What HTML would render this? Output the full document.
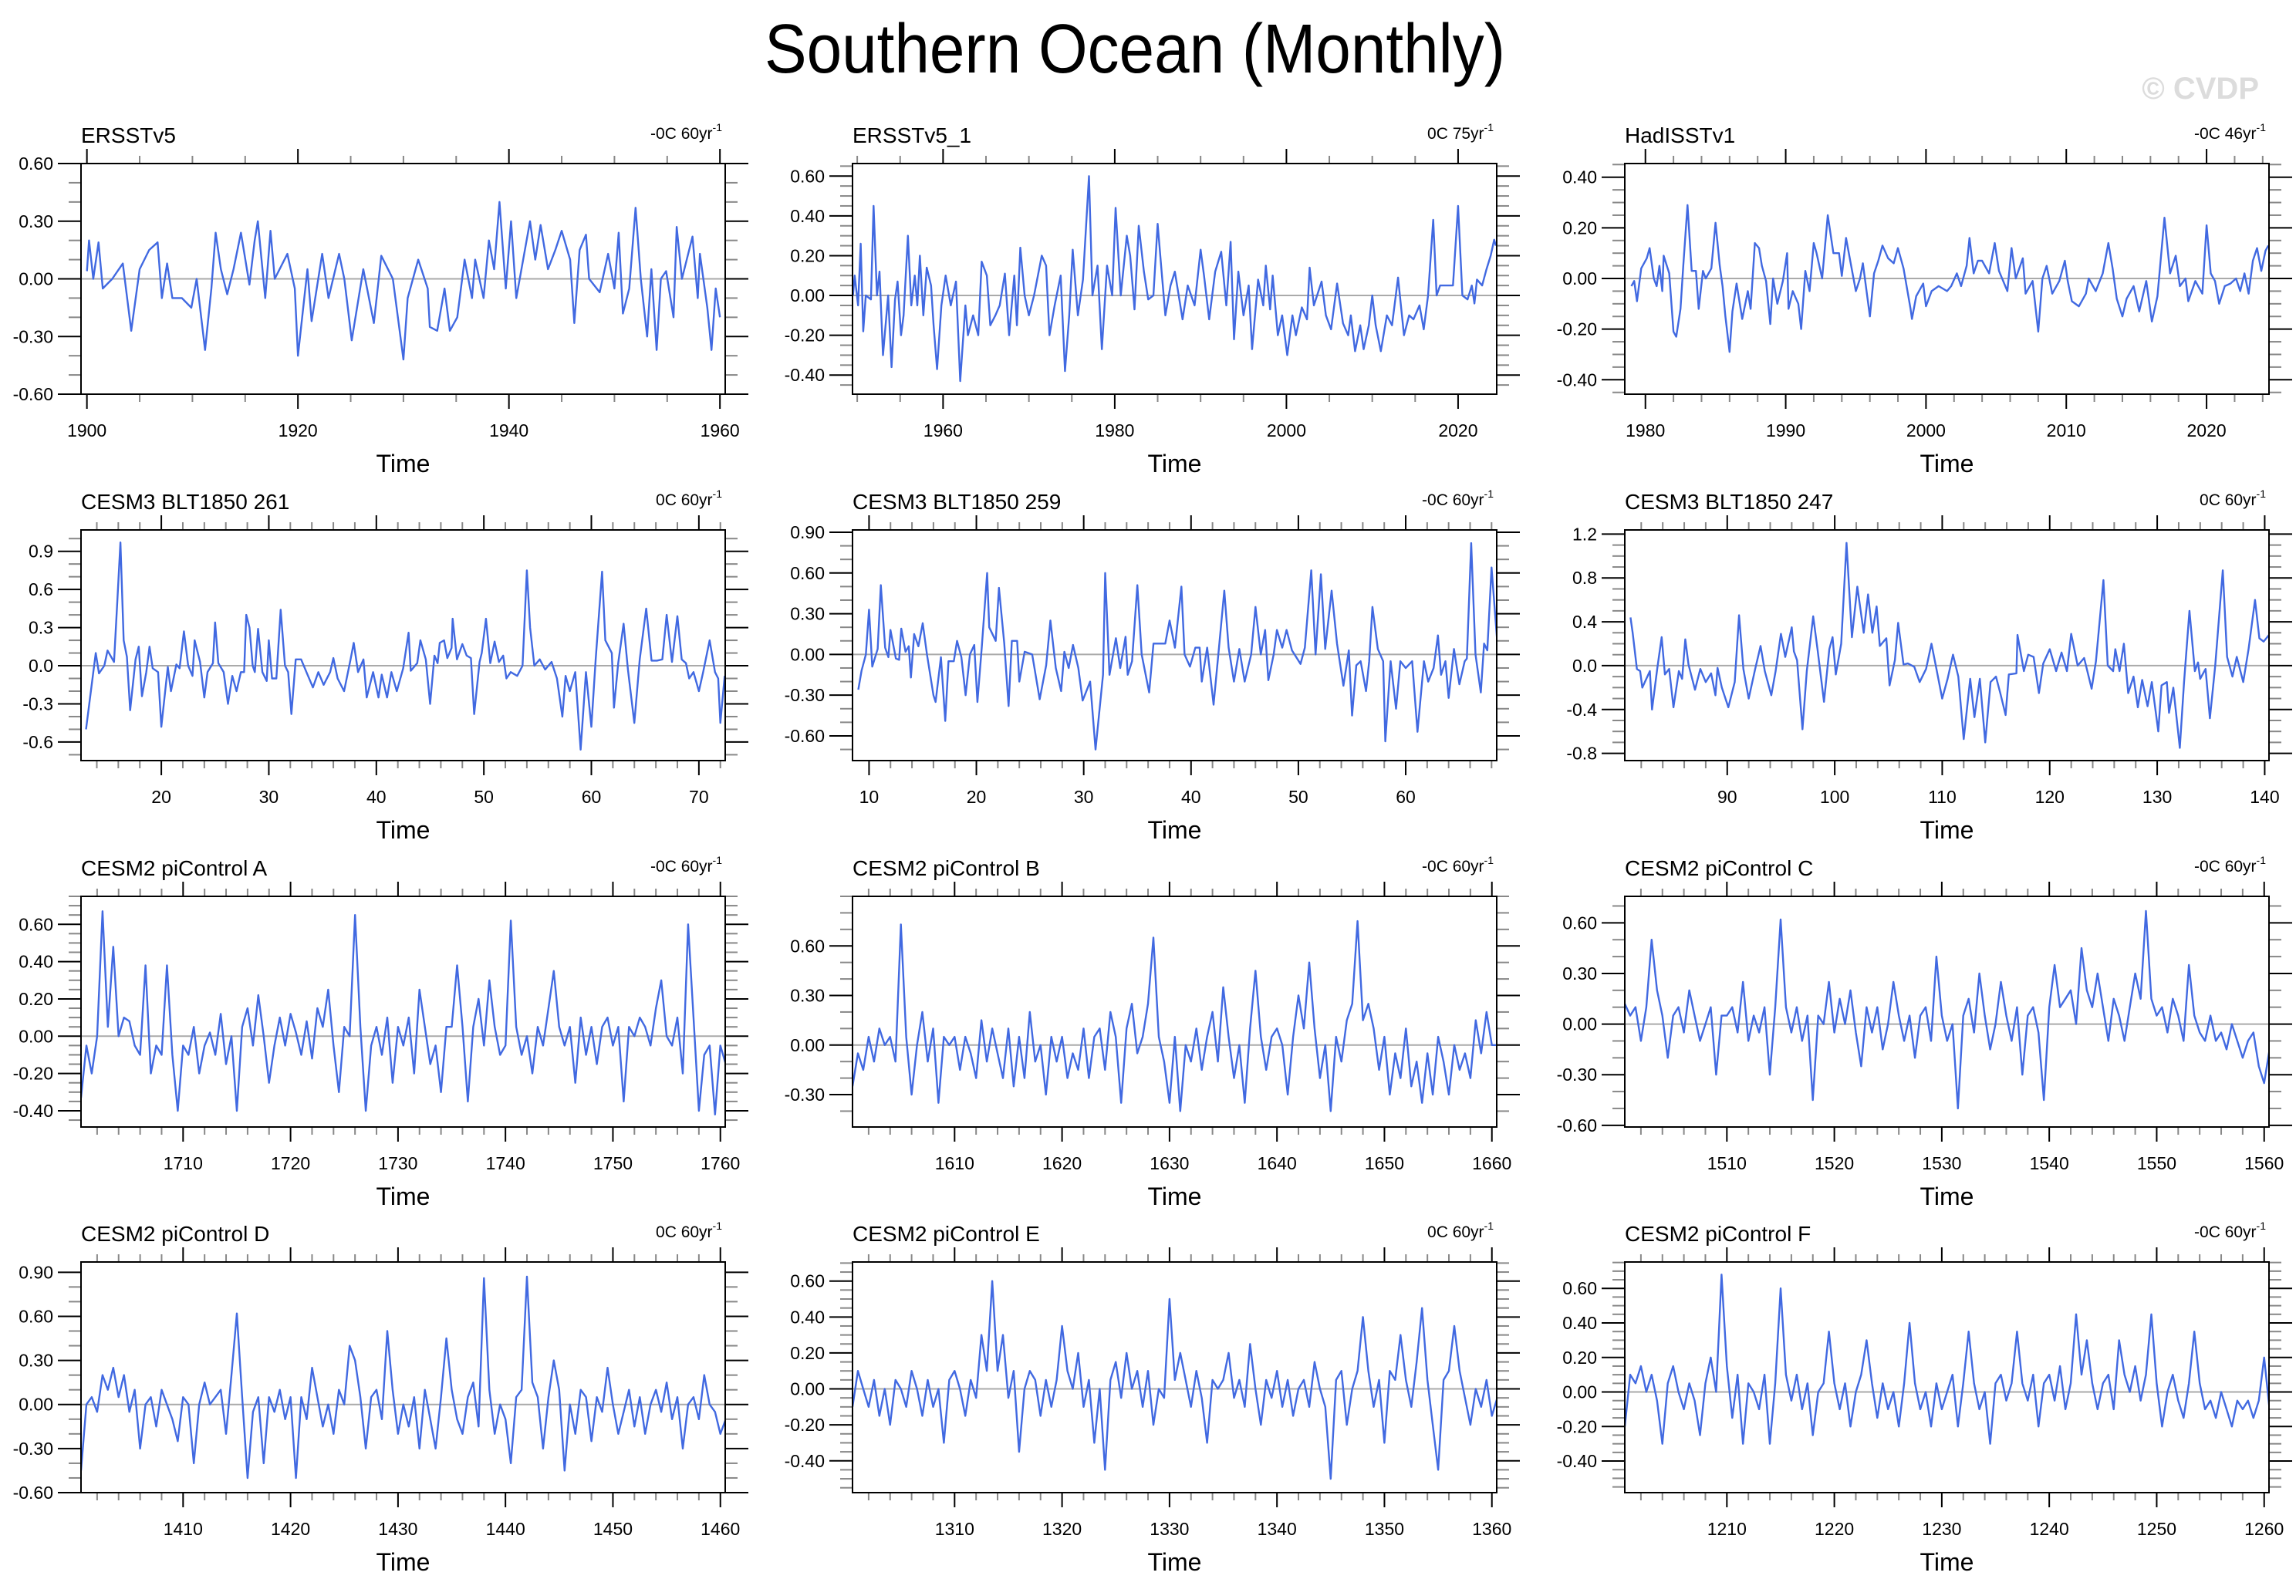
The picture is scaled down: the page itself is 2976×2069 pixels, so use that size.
<!DOCTYPE html>
<html><head><meta charset="utf-8"><title>Southern Ocean (Monthly)</title>
<style>html,body{margin:0;padding:0;background:#fff}svg{display:block}text{font-family:"Liberation Sans",Arial,sans-serif}</style>
</head><body>
<svg id="fig" xmlns="http://www.w3.org/2000/svg" width="2976" height="2069" viewBox="0 0 2976 2069">
<rect x="0" y="0" width="2976" height="2069" fill="#fff"/>
<text x="1471" y="94" font-size="90" text-anchor="middle" textLength="960" lengthAdjust="spacingAndGlyphs">Southern Ocean (Monthly)</text>
<text x="2928" y="128" font-size="40" font-weight="bold" fill="#dcdcdc" text-anchor="end">© CVDP</text>
<g id="panels"></g>
</svg>
<script>
// ---------- data ----------
const p1Years=[1900.0,1900.2,1900.6,1901.1,1901.5,1902.4,1903.4,1904.2,1905.0,1905.9,1906.7,1907.1,1907.6,1908.1,1909.0,1909.9,1910.4,1911.2,1911.8,1912.2,1912.7,1913.3,1913.9,1914.6,1915.4,1915.9,1916.2,1916.9,1917.4,1917.8,1919.0,1919.7,1920.0,1920.9,1921.3,1922.3,1922.9,1923.9,1924.4,1925.1,1926.2,1927.2,1927.9,1929.0,1930.0,1930.4,1931.4,1932.3,1932.5,1933.2,1933.9,1934.4,1935.1,1935.8,1936.5,1936.8,1937.6,1938.1,1938.6,1939.1,1939.7,1940.2,1940.7,1942.0,1942.5,1943.0,1943.7,1944.4,1945.0,1945.8,1946.2,1946.7,1947.3,1947.6,1948.6,1949.4,1950.0,1950.4,1950.8,1951.4,1952.0,1952.5,1953.1,1953.5,1954.0,1954.4,1954.9,1955.6,1955.9,1956.4,1957.4,1957.9,1958.1,1958.8,1959.2,1959.6,1960.0];
const p1Vals=[.04,.2,0,.19,-.05,0,.08,-.27,.05,.15,.19,-.1,.08,-.1,-.1,-.15,0,-.37,-.05,.24,.05,-.08,.05,.24,-.03,.2,.3,-.1,.25,0,.13,-.05,-.4,.05,-.22,.13,-.1,.13,0,-.32,.05,-.23,.12,0,-.42,-.1,.1,-.05,-.25,-.27,-.05,-.27,-.2,.1,-.1,.1,-.1,.2,.05,.4,-.05,.3,-.1,.3,.1,.28,.05,.15,.25,.1,-.23,.15,.23,0,-.07,.13,-.05,.24,-.18,-.05,.37,0,-.3,.05,-.37,0,.04,-.2,.27,0,.22,-.1,.13,-.15,-.37,-.05,-.2];

const p2Years=[1949.5,1949.7,1950.1,1950.4,1950.7,1951.0,1951.6,1951.9,1952.3,1952.6,1953.0,1953.6,1954.0,1954.4,1954.7,1955.1,1955.4,1955.9,1956.3,1956.7,1957.0,1957.3,1957.7,1958.1,1958.6,1958.9,1959.3,1959.8,1960.3,1960.9,1961.5,1962.0,1962.6,1962.9,1963.5,1964.1,1964.5,1965.1,1965.5,1966.1,1966.6,1967.2,1967.7,1968.3,1968.6,1969.0,1969.5,1970.0,1970.6,1971.5,1972.0,1972.4,1973.0,1973.7,1974.2,1974.7,1975.1,1975.7,1976.3,1977.0,1977.4,1978.0,1978.5,1979.1,1979.7,1980.1,1980.7,1981.4,1981.8,1982.3,1982.8,1983.4,1983.9,1984.5,1985.0,1985.4,1985.9,1986.5,1987.0,1987.9,1988.5,1989.3,1990.0,1990.4,1991.0,1991.7,1992.4,1993.0,1993.5,1993.9,1994.4,1995.0,1995.6,1996.0,1996.7,1997.3,1997.6,1998.1,1998.4,1999.0,1999.5,2000.1,2000.7,2001.1,2001.8,2002.4,2002.7,2003.2,2004.1,2004.6,2005.2,2005.9,2006.6,2007.2,2007.5,2008.0,2008.6,2009.0,2009.6,2010.0,2010.4,2011.0,2011.7,2012.3,2013.0,2013.7,2014.3,2014.8,2015.5,2016.0,2016.5,2017.1,2017.5,2017.9,2018.8,2019.4,2020.0,2020.5,2021.1,2021.6,2021.9,2022.2,2022.8,2023.3,2023.8,2024.2,2024.4];
const p2Vals=[0,.1,-.05,.26,-.18,0,-.02,.45,0,.12,-.3,0,-.36,-.02,.07,-.2,-.1,.3,-.05,.1,-.05,.2,-.1,.14,.05,-.15,-.37,-.05,.1,-.05,.07,-.43,-.05,-.2,-.1,-.2,.17,.1,-.15,-.1,-.05,.11,-.2,.1,-.15,.24,0,-.1,0,.2,.15,-.2,-.05,.1,-.38,-.1,.23,-.1,.08,.6,0,.15,-.27,.15,0,.44,0,.3,.2,-.07,.35,.12,-.02,0,.36,.15,-.1,.05,.12,-.12,.05,-.05,.23,.1,-.12,.12,.22,-.05,.27,-.22,.12,-.1,.05,-.27,.08,-.05,.15,-.07,.1,-.2,-.1,-.3,-.1,-.2,-.06,-.12,.14,-.05,.07,-.1,-.17,.06,-.14,-.2,-.1,-.28,-.15,-.27,-.15,0,-.15,-.28,-.1,-.15,.09,-.2,-.1,-.12,-.05,-.17,0,.38,0,.05,.05,.05,.45,0,-.02,.05,-.04,.08,.05,.13,.2,.28,.25];

const p3Years=[1979.0,1979.2,1979.4,1979.7,1980.1,1980.3,1980.6,1980.8,1981.0,1981.2,1981.3,1981.7,1982.0,1982.2,1982.5,1982.7,1983.0,1983.3,1983.6,1983.8,1984.1,1984.3,1984.7,1985.0,1985.3,1985.5,1985.7,1986.0,1986.2,1986.5,1986.9,1987.3,1987.5,1987.8,1988.1,1988.3,1988.6,1988.9,1989.1,1989.4,1989.8,1990.1,1990.2,1990.5,1990.9,1991.1,1991.4,1991.7,1992.0,1992.2,1992.6,1993.0,1993.4,1993.8,1994.0,1994.3,1994.6,1995.0,1995.3,1995.5,1996.0,1996.3,1996.6,1996.9,1997.3,1997.7,1998.0,1998.4,1998.9,1999.0,1999.3,1999.8,2000.0,2000.4,2000.9,2001.5,2001.8,2002.2,2002.5,2002.9,2003.1,2003.4,2003.7,2004.0,2004.5,2004.9,2005.2,2005.8,2006.1,2006.4,2006.9,2007.1,2007.6,2008.0,2008.3,2008.6,2009.0,2009.5,2009.9,2010.1,2010.4,2010.9,2011.4,2011.6,2012.1,2012.6,2013.0,2013.3,2013.6,2014.0,2014.3,2014.8,2015.2,2015.7,2016.1,2016.5,2017.0,2017.4,2017.8,2018.1,2018.5,2018.7,2019.2,2019.7,2020.0,2020.3,2020.6,2020.9,2021.3,2021.7,2022.1,2022.4,2022.7,2023.0,2023.3,2023.6,2023.9,2024.2,2024.4];
const p3Vals=[-.03,-.01,-.09,.04,.08,.12,0,-.03,.05,-.05,.09,.02,-.21,-.23,-.12,.05,.29,.03,.03,-.12,.03,0,.04,.22,.05,-.03,-.15,-.29,-.13,-.02,-.16,-.05,-.12,.14,.12,.05,-.01,-.18,0,-.1,-.01,.1,-.12,-.05,-.1,-.2,.03,-.05,.14,.1,0,.25,.1,.1,.01,.16,.07,-.05,0,.06,-.15,.02,.07,.13,.08,.06,.12,.04,-.12,-.16,-.07,-.02,-.11,-.05,-.03,-.05,-.03,.02,-.03,.05,.16,.02,.07,.07,.02,.14,.03,-.05,.12,0,.08,-.06,-.01,-.21,0,.05,-.06,-.01,.07,-.01,-.09,-.11,-.06,0,-.05,.02,.14,.04,-.08,-.15,-.08,-.03,-.13,-.01,-.17,-.07,.24,.02,.09,-.03,0,-.09,-.01,-.06,.21,.02,-.01,-.1,-.03,-.02,0,-.05,.02,-.06,.07,.12,.03,.11,.13];

const p4Years=[13.0,13.6,13.9,14.2,14.7,15.0,15.6,15.9,16.2,16.5,16.8,17.1,17.6,17.9,18.2,18.6,18.9,19.2,19.7,20.0,20.6,20.9,21.4,21.7,22.1,22.5,22.9,23.1,23.6,24.0,24.3,24.8,25.0,25.3,25.8,26.2,26.6,27.0,27.4,27.7,27.9,28.2,28.5,28.7,29.0,29.4,29.8,30.0,30.3,30.7,31.1,31.5,31.8,32.1,32.5,33.0,33.5,34.1,34.6,35.1,35.7,36.0,36.4,37.0,37.6,37.9,38.3,38.8,39.1,39.7,40.2,40.5,41.0,41.4,41.9,42.5,43.0,43.2,43.8,44.1,44.6,45.0,45.4,45.7,45.9,46.3,46.6,47.0,47.1,47.5,48.0,48.4,48.8,49.1,49.6,49.8,50.2,50.6,51.0,51.4,51.8,52.1,52.5,53.1,53.6,54.0,54.3,54.7,55.2,55.7,56.3,56.8,57.3,57.6,58.0,58.5,59.0,59.5,60.0,60.4,61.0,61.3,61.9,62.1,62.5,63.0,63.4,64.0,64.5,65.1,65.6,66.1,66.6,67.0,67.5,68.0,68.4,68.8,69.1,69.5,70.0,70.4,71.0,71.5,71.8,72.0,72.4];
const p4Vals=[-.5,-.1,.1,-.06,0,.12,.03,.5,.97,.2,.07,-.35,.05,.15,-.24,-.05,.15,-.02,-.05,-.48,-.01,-.2,.01,-.02,.27,0,-.08,.2,.03,-.25,-.05,.02,.34,.02,-.05,-.3,-.08,-.2,-.05,-.05,.4,.3,0,-.05,.29,-.05,-.12,.2,-.1,-.1,.44,0,-.05,-.38,.05,.05,-.05,-.17,-.05,-.15,-.05,.06,-.1,-.2,.05,.18,-.05,.05,-.25,-.05,-.25,-.07,-.25,-.05,-.2,-.02,.26,-.04,.02,.2,.05,-.3,.08,.02,.18,.2,.06,.14,.37,.05,.17,.08,.06,-.38,.03,.1,.37,.02,.19,.03,.08,-.1,-.05,-.08,0,.75,.3,0,.05,-.03,.03,-.1,-.4,-.08,-.2,-.05,-.66,-.05,-.48,.05,.74,.2,.1,-.33,.02,.33,-.03,-.45,.05,.45,.04,.04,.05,.4,.03,.39,.05,.02,-.1,-.05,-.2,-.05,.2,-.05,-.1,-.45,-.08];

const p5Years=[9.0,9.3,9.7,10.0,10.3,10.8,11.1,11.5,11.8,12.0,12.5,12.8,13.0,13.4,13.7,13.9,14.2,14.6,15.0,15.4,16.0,16.2,16.7,17.1,17.4,17.9,18.2,18.6,19.0,19.4,19.8,20.1,20.5,21.0,21.2,21.8,22.1,22.6,23.0,23.3,23.8,24.0,24.5,25.2,25.9,26.5,26.9,27.4,27.9,28.2,28.6,29.0,29.5,29.9,30.6,31.1,31.8,32.0,32.4,33.0,33.4,33.9,34.1,34.5,35.0,35.4,36.1,36.5,37.0,37.6,38.0,38.5,39.1,39.4,39.9,40.4,40.8,41.0,41.5,42.1,42.6,43.1,43.5,44.0,44.5,45.0,45.6,46.0,46.5,46.9,47.2,47.7,48.0,48.5,48.9,49.4,50.2,50.6,51.2,51.6,52.1,52.5,53.1,53.6,54.2,54.7,55.0,55.4,55.8,56.3,56.6,56.9,57.4,57.9,58.1,58.6,59.1,59.5,60.0,60.6,61.1,61.7,62.1,62.6,63.0,63.3,63.7,64.0,64.5,65.0,65.5,65.7,66.1,66.5,67.0,67.3,67.6,68.0,68.5];
const p5Vals=[-.26,-.12,0,.33,-.09,.04,.51,.05,-.02,.18,-.03,-.04,.19,.02,.06,-.17,.15,.06,.23,0,-.3,-.35,-.02,-.49,-.05,-.05,.1,-.02,-.3,0,.07,-.35,.05,.6,.2,.1,.49,.08,-.38,.1,.1,-.2,.02,0,-.33,-.08,.25,-.1,-.27,.02,-.1,.07,-.1,-.34,-.2,-.7,-.15,.6,-.15,.12,-.1,.13,-.15,-.05,.51,0,-.28,.08,.08,.08,.25,.05,.5,0,-.09,.05,.05,-.2,.05,-.37,.05,.47,.05,-.2,.04,-.2,0,.35,0,.18,-.19,0,.18,.05,.18,.03,-.07,.05,.62,0,.59,.04,.47,.08,-.23,.03,-.45,-.08,-.05,-.27,-.05,.35,.04,-.05,-.64,-.05,-.4,-.05,-.1,-.05,-.57,-.05,-.2,-.1,.14,-.15,-.05,-.32,.04,-.22,-.05,-.03,.82,0,-.28,.08,.03,.64,.12];

const p6Years=[81.0,81.2,81.6,81.9,82.1,82.8,83.0,83.5,83.9,84.2,84.6,85.0,85.5,85.8,86.1,86.4,87.0,87.5,88.0,88.5,88.9,89.1,89.5,90.1,90.7,91.1,91.5,92.0,92.6,93.1,93.5,94.1,94.5,95.0,95.4,96.0,96.2,96.5,97.0,97.4,98.0,98.4,99.0,99.5,99.8,100.1,100.6,101.1,101.6,102.1,102.7,103.1,103.5,103.9,104.2,104.8,105.1,105.6,105.9,106.4,106.8,107.4,107.9,108.5,109.0,109.5,110.0,110.5,111.0,111.5,112.0,112.6,113.0,113.5,114.0,114.5,115.0,115.4,115.9,116.2,116.9,117.0,117.6,118.0,118.5,119.0,119.4,120.0,120.6,121.1,121.6,122.0,122.6,123.2,123.9,124.3,125.0,125.4,125.9,126.1,126.5,126.9,127.3,127.8,128.2,128.6,129.1,129.5,130.1,130.4,130.9,131.1,131.5,132.1,132.5,133.0,133.5,133.8,134.0,134.5,134.9,135.4,136.1,136.5,137.0,137.4,138.0,138.5,139.1,139.5,139.9,140.4];
const p6Vals=[.44,.3,-.03,-.05,-.2,-.05,-.4,-.02,.26,-.08,-.03,-.38,-.05,-.12,.24,.01,-.22,-.03,-.15,-.07,-.27,-.02,-.2,-.38,-.15,.46,-.03,-.3,-.03,.18,-.05,-.27,-.05,.29,.08,.35,.13,.05,-.58,-.05,.45,.15,-.33,.15,.26,-.08,.2,1.12,.26,.72,.3,.65,.3,.54,.18,.25,-.18,.05,.39,.01,.02,-.01,-.15,-.03,.2,-.05,-.3,-.12,.1,-.1,-.67,-.12,-.47,-.12,-.7,-.15,-.1,-.25,-.45,-.08,-.07,.28,-.05,.1,.08,-.25,.02,.15,-.05,.12,-.05,.29,0,.07,-.21,.04,.78,0,-.05,.15,-.05,.2,-.25,-.1,-.38,-.13,-.37,-.15,-.6,-.18,-.15,-.43,-.2,-.75,-.15,.5,-.05,.03,-.12,-.03,-.48,0,.87,.08,-.1,.08,-.15,.15,.6,.25,.22,.28];

// piControl series: half-year samples
const p7Start=1700.5, p7Step=0.5;
const p7Vals=[-.33,-.05,-.2,0,.67,.05,.48,0,.1,.08,-.05,-.1,.38,-.2,-.05,-.1,.38,-.1,-.4,-.05,-.1,.05,-.2,-.05,.02,-.1,.12,-.15,0,-.4,.05,.15,-.05,.22,0,-.25,-.05,.1,-.05,.12,.02,-.1,.08,-.12,.15,.05,.25,-.05,-.3,.05,0,.65,.05,-.4,-.05,.05,-.1,.1,-.25,.05,-.05,.1,-.2,.25,.05,-.15,-.05,-.3,.05,.05,.38,.05,-.35,.05,.2,-.05,.3,.05,-.1,-.05,.62,.05,-.1,0,-.2,.05,-.05,.15,.35,.05,-.05,.05,-.25,.1,-.1,.05,-.15,.05,.1,-.05,.05,-.35,.05,0,.1,.05,-.05,.15,.3,0,-.05,.1,-.2,.6,.1,-.4,-.1,-.05,-.42,-.05,-.15];
const p8Start=1600.5, p8Step=0.5;
const p8Vals=[-.25,-.05,-.15,.05,-.1,.1,0,.05,-.1,.73,.05,-.3,0,.2,-.1,.1,-.35,.05,0,.05,-.15,.05,-.05,-.2,.15,-.1,.1,-.05,-.2,.1,-.25,.05,-.2,.2,-.1,0,-.3,.05,-.1,.05,-.2,-.05,-.15,.1,-.2,.05,.1,-.15,.2,.05,-.35,.1,.25,-.05,.05,.25,.65,.05,-.1,-.35,.05,-.4,0,-.1,.1,-.15,.05,.2,-.1,.35,.05,-.2,0,-.35,.1,.45,.05,-.15,.05,.1,0,-.3,.05,.3,.1,.5,.1,-.2,0,-.4,.05,-.1,.15,.25,.75,.15,.25,.1,-.15,.05,-.3,-.05,-.2,.1,-.25,-.1,-.35,-.05,-.3,.05,-.1,-.3,0,-.15,-.05,-.2,.15,-.05,.2,0,0];
const p9Start=1500.5, p9Step=0.5;
const p9Vals=[.12,.05,.1,-.1,.1,.5,.2,.05,-.2,.05,.1,-.05,.2,.05,-.1,0,.1,-.3,.05,.05,.1,-.05,.25,-.1,.05,-.05,.1,-.3,.1,.62,.1,-.05,.1,-.1,.05,-.45,.05,0,.25,-.05,.15,0,.2,-.05,-.25,.1,-.05,.1,-.15,0,.25,.05,-.1,.05,-.2,.05,.1,-.1,.4,.05,-.1,0,-.5,.05,.15,-.05,.3,.05,-.15,0,.25,.05,-.1,.1,-.3,.05,.1,-.05,-.45,.1,.35,.1,.15,.2,0,.45,.2,.1,.3,.1,-.1,.15,.05,-.1,.1,.3,.15,.67,.15,.05,.1,-.05,.15,.05,-.1,.35,.05,-.05,-.1,.05,-.1,-.05,-.15,0,-.1,-.2,-.1,-.05,-.25,-.35,-.15];
const p10Start=1400.5, p10Step=0.5;
const p10Vals=[-.45,0,.05,-.05,.2,.1,.25,.05,.2,-.05,.1,-.3,0,.05,-.15,.1,0,-.1,-.25,.05,0,-.4,0,.15,0,.05,.1,-.2,.2,.62,.05,-.5,-.05,.05,-.4,.05,-.05,.1,-.1,.05,-.5,.05,-.1,.25,.05,-.15,0,-.2,.1,0,.4,.3,.05,-.3,.05,.1,-.1,.5,.1,-.2,0,-.15,.05,-.3,.1,-.1,-.3,.05,.45,.1,-.1,-.2,.05,.15,-.15,.86,.1,-.2,0,-.1,-.4,.05,.1,.87,.15,.05,-.3,.05,.3,.1,-.45,0,-.2,.1,.05,-.25,.05,-.05,.25,0,-.2,-.05,.1,-.15,.05,-.2,0,.1,-.05,.15,-.1,.05,-.3,0,.05,-.1,.2,0,-.05,-.2,-.1];
const p11Start=1300.5, p11Step=0.5;
const p11Vals=[-.1,.1,0,-.1,.05,-.15,0,-.2,.05,0,-.1,.1,0,-.15,.05,-.1,0,-.3,.05,.1,0,-.15,.05,-.05,.3,.1,.6,.1,.3,-.05,.1,-.35,0,.1,.05,-.15,.05,-.1,.05,.35,.1,0,.2,-.1,.05,-.3,0,-.45,.05,.15,-.05,.2,0,.1,-.1,.1,-.2,0,-.05,.5,.05,.2,.05,-.1,.1,-.05,-.3,.05,0,.05,.2,-.05,.05,-.1,.25,0,-.2,.05,-.05,.1,-.1,.05,-.15,0,.05,-.1,.15,0,-.1,-.5,.05,.1,-.2,0,.1,.4,.1,-.1,.05,-.3,.1,.05,.3,.05,-.1,.15,.45,.05,-.2,-.45,.05,.1,.35,.1,-.05,-.2,0,-.1,.05,-.15,-.05];
const p12Start=1200.5, p12Step=0.5;
const p12Vals=[-.2,.1,.05,.15,0,.1,-.05,-.3,.05,.15,0,-.1,.05,-.05,-.25,.05,.2,0,.68,.15,-.15,.1,-.3,.05,0,-.1,.1,-.3,.05,.6,.1,-.05,.1,-.1,.05,-.25,0,.05,.35,.05,-.1,.05,-.2,0,.1,.3,.05,-.15,.05,-.1,0,-.2,.05,.4,.05,-.1,0,-.2,.05,-.1,0,.1,-.2,.05,.35,.05,-.1,0,-.3,.05,.1,-.05,.05,.35,.05,-.05,.1,-.2,.05,.1,-.05,.15,-.1,.05,.45,.1,.3,.05,-.1,.05,.1,-.1,.3,.1,0,.15,-.05,.1,.45,.05,-.2,0,.1,-.05,-.15,.05,.35,.05,-.1,-.05,-.15,0,-.1,-.2,-.05,-.1,-.05,-.15,-.05,.2,-.1];

// tick label arrays
const yT_p1=[-0.6,-0.3,0,0.3,0.6];
const yT_p2=[-0.4,-0.2,0,0.2,0.4,0.6];
const yT_p3=[-0.4,-0.2,0,0.2,0.4];
const yT_p4=[-0.6,-0.3,0,0.3,0.6,0.9];
const yT_p5=[-0.6,-0.3,0,0.3,0.6,0.9];
const yT_p6=[-0.8,-0.4,0,0.4,0.8,1.2];
const yT_p7=[-0.4,-0.2,0,0.2,0.4,0.6];
const yT_p8=[-0.3,0,0.3,0.6];
const yT_p9=[-0.6,-0.3,0,0.3,0.6];
const yT_p10=[-0.6,-0.3,0,0.3,0.6,0.9];
const yT_p11=[-0.4,-0.2,0,0.2,0.4,0.6];
const yT_p12=[-0.4,-0.2,0,0.2,0.4,0.6];
const xT_p1=[1900,1920,1940,1960];
const xT_p2=[1960,1980,2000,2020];
const xT_p3=[1980,1990,2000,2010,2020];
const xT_p4=[20,30,40,50,60,70];
const xT_p5=[10,20,30,40,50,60];
const xT_p6=[90,100,110,120,130,140];
const xT_p7=[1710,1720,1730,1740,1750,1760];
const xT_p8=[1610,1620,1630,1640,1650,1660];
const xT_p9=[1510,1520,1530,1540,1550,1560];
const xT_p10=[1410,1420,1430,1440,1450,1460];
const xT_p11=[1310,1320,1330,1340,1350,1360];
const xT_p12=[1210,1220,1230,1240,1250,1260];

function evenYears(start,step,n){const a=[];for(let i=0;i<n;i++)a.push(start+i*step);return a;}

const panels=[
 {key:'ersstv5',title:'ERSSTv5',trend:'-0C 60yr',c:0,r:0,xr:[1899.44,1960.5],yr:[-0.6,0.6],xt:xT_p1,xm:5,yt:yT_p1,ym:0.1,dec:2,xs:p1Years,ys:p1Vals},
 {key:'ersstv5-1',title:'ERSSTv5_1',trend:'0C 75yr',c:1,r:0,xr:[1949.45,2024.5],yr:[-0.496,0.663],xt:xT_p2,xm:5,yt:yT_p2,ym:0.05,dec:2,xs:p2Years,ys:p2Vals},
 {key:'hadisstv1',title:'HadISSTv1',trend:'-0C 46yr',c:2,r:0,xr:[1978.53,2024.45],yr:[-0.457,0.454],xt:xT_p3,xm:2,yt:yT_p3,ym:0.05,dec:2,xs:p3Years,ys:p3Vals},
 {key:'cesm3-261',title:'CESM3 BLT1850 261',trend:'0C 60yr',c:0,r:1,xr:[12.53,72.45],yr:[-0.746,1.068],xt:xT_p4,xm:2,yt:yT_p4,ym:0.1,dec:1,xs:p4Years,ys:p4Vals},
 {key:'cesm3-259',title:'CESM3 BLT1850 259',trend:'-0C 60yr',c:1,r:1,xr:[8.46,68.48],yr:[-0.782,0.917],xt:xT_p5,xm:2,yt:yT_p5,ym:0.1,dec:2,xs:p5Years,ys:p5Vals},
 {key:'cesm3-247',title:'CESM3 BLT1850 247',trend:'0C 60yr',c:2,r:1,xr:[80.47,140.4],yr:[-0.866,1.238],xt:xT_p6,xm:2,yt:yT_p6,ym:0.1,dec:1,xs:p6Years,ys:p6Vals},
 {key:'picontrol-a',title:'CESM2 piControl A',trend:'-0C 60yr',c:0,r:2,xr:[1700.5,1760.45],yr:[-0.487,0.75],xt:xT_p7,xm:2,yt:yT_p7,ym:0.05,dec:2,xs:evenYears(p7Start,p7Step,p7Vals.length),ys:p7Vals},
 {key:'picontrol-b',title:'CESM2 piControl B',trend:'-0C 60yr',c:1,r:2,xr:[1600.5,1660.45],yr:[-0.496,0.9],xt:xT_p8,xm:2,yt:yT_p8,ym:0.1,dec:2,xs:evenYears(p8Start,p8Step,p8Vals.length),ys:p8Vals},
 {key:'picontrol-c',title:'CESM2 piControl C',trend:'-0C 60yr',c:2,r:2,xr:[1500.5,1560.45],yr:[-0.61,0.757],xt:xT_p9,xm:2,yt:yT_p9,ym:0.1,dec:2,xs:evenYears(p9Start,p9Step,p9Vals.length),ys:p9Vals},
 {key:'picontrol-d',title:'CESM2 piControl D',trend:'0C 60yr',c:0,r:3,xr:[1400.5,1460.45],yr:[-0.6,0.97],xt:xT_p10,xm:2,yt:yT_p10,ym:0.1,dec:2,xs:evenYears(p10Start,p10Step,p10Vals.length),ys:p10Vals},
 {key:'picontrol-e',title:'CESM2 piControl E',trend:'0C 60yr',c:1,r:3,xr:[1300.5,1360.45],yr:[-0.577,0.706],xt:xT_p11,xm:2,yt:yT_p11,ym:0.05,dec:2,xs:evenYears(p11Start,p11Step,p11Vals.length),ys:p11Vals},
 {key:'picontrol-f',title:'CESM2 piControl F',trend:'-0C 60yr',c:2,r:3,xr:[1200.5,1260.45],yr:[-0.583,0.753],xt:xT_p12,xm:2,yt:yT_p12,ym:0.05,dec:2,xs:evenYears(p12Start,p12Step,p12Vals.length),ys:p12Vals}
];

// ---------- layout ----------
const NS='http://www.w3.org/2000/svg';
const colX=[105,1105,2106], rowY=[212,687,1162,1636], W=835, H=299;
const root=document.getElementById('panels');
function mk(tag,attrs,parent){const e=document.createElementNS(NS,tag);for(const k in attrs)e.setAttribute(k,attrs[k]);parent.appendChild(e);return e;}

panels.forEach((p,pi)=>{
 const x0=colX[p.c], y0=rowY[p.r];
 const g=mk('g',{},root);
 
 
 const sx=v=>x0+(v-p.xr[0])/(p.xr[1]-p.xr[0])*W;
 const sy=v=>y0+H-(v-p.yr[0])/(p.yr[1]-p.yr[0])*H;

 // title
 const t=mk('text',{x:x0,y:y0-27,'font-size':28},g);
 t.textContent=p.title;
 
 
 const tr=mk('text',{x:x0+W-4,y:y0-32,'font-size':21,'text-anchor':'end'},g);
 
 
 tr.appendChild(document.createTextNode(p.trend));
 const sup=mk('tspan',{'font-size':14,dy:-10},tr); sup.textContent='-1';

 // ticks
 const ticks=mk('g',{},g);
 
 
 const eps=1e-6;
 for(let v=Math.ceil((p.xr[0]-eps)/p.xm)*p.xm; v<=p.xr[1]+eps; v+=p.xm){
   const major=p.xt.some(m=>Math.abs(m-v)<1e-6);
   const X=sx(v), L=major?19:10, col=major?'#000':'#888';
   mk('line',{x1:X,x2:X,y1:y0+H,y2:y0+H+L,stroke:col,'stroke-width':2},ticks);
   mk('line',{x1:X,x2:X,y1:y0,y2:y0-L,stroke:col,'stroke-width':2},ticks);
 }
 for(let k=Math.ceil((p.yr[0]-eps)/p.ym); k*p.ym<=p.yr[1]+eps; k++){
   const v=k*p.ym;
   const major=p.yt.some(m=>Math.abs(m-v)<1e-6);
   const Y=sy(v), L=major?30:16, col=major?'#000':'#888';
   mk('line',{x1:x0,x2:x0-L,y1:Y,y2:Y,stroke:col,'stroke-width':2},ticks);
   mk('line',{x1:x0+W,x2:x0+W+L,y1:Y,y2:Y,stroke:col,'stroke-width':2},ticks);
 }
 // tick labels
 p.yt.forEach(v=>{
   const tl=mk('text',{x:x0-36,y:sy(v)+8,'font-size':23,'text-anchor':'end'},g);
   tl.textContent=v.toFixed(p.dec);
   
   
 });
 p.xt.forEach(v=>{
   const tl=mk('text',{x:sx(v),y:y0+H+55,'font-size':23,'text-anchor':'middle'},g);
   tl.textContent=String(v);
   
   
 });
 const xt=mk('text',{x:x0+W/2,y:y0+H+101,'font-size':32,'text-anchor':'middle'},g);
 xt.textContent='Time';
 
 

 // clip
 const cp=mk('clipPath',{id:'clip'+pi},g);
 mk('rect',{x:x0,y:y0,width:W,height:H},cp);
 // zero line
 const z=mk('line',{x1:x0,x2:x0+W,y1:sy(0),y2:sy(0),stroke:'#aaaaaa','stroke-width':2},g);
 
 
 // series
 let d='';
 p.xs.forEach((xv,i)=>{d+=(i?'L':'M')+sx(xv).toFixed(1)+','+sy(p.ys[i]).toFixed(1);});
 const path=mk('path',{d:d,fill:'none',stroke:'#4169e1','stroke-width':2.4,'stroke-linejoin':'round','clip-path':'url(#clip'+pi+')'},g);
 
 
 // frame
 const fr=mk('rect',{x:x0,y:y0,width:W,height:H,fill:'none',stroke:'#000','stroke-width':2},g);
 
 
});
</script>
</body></html>
